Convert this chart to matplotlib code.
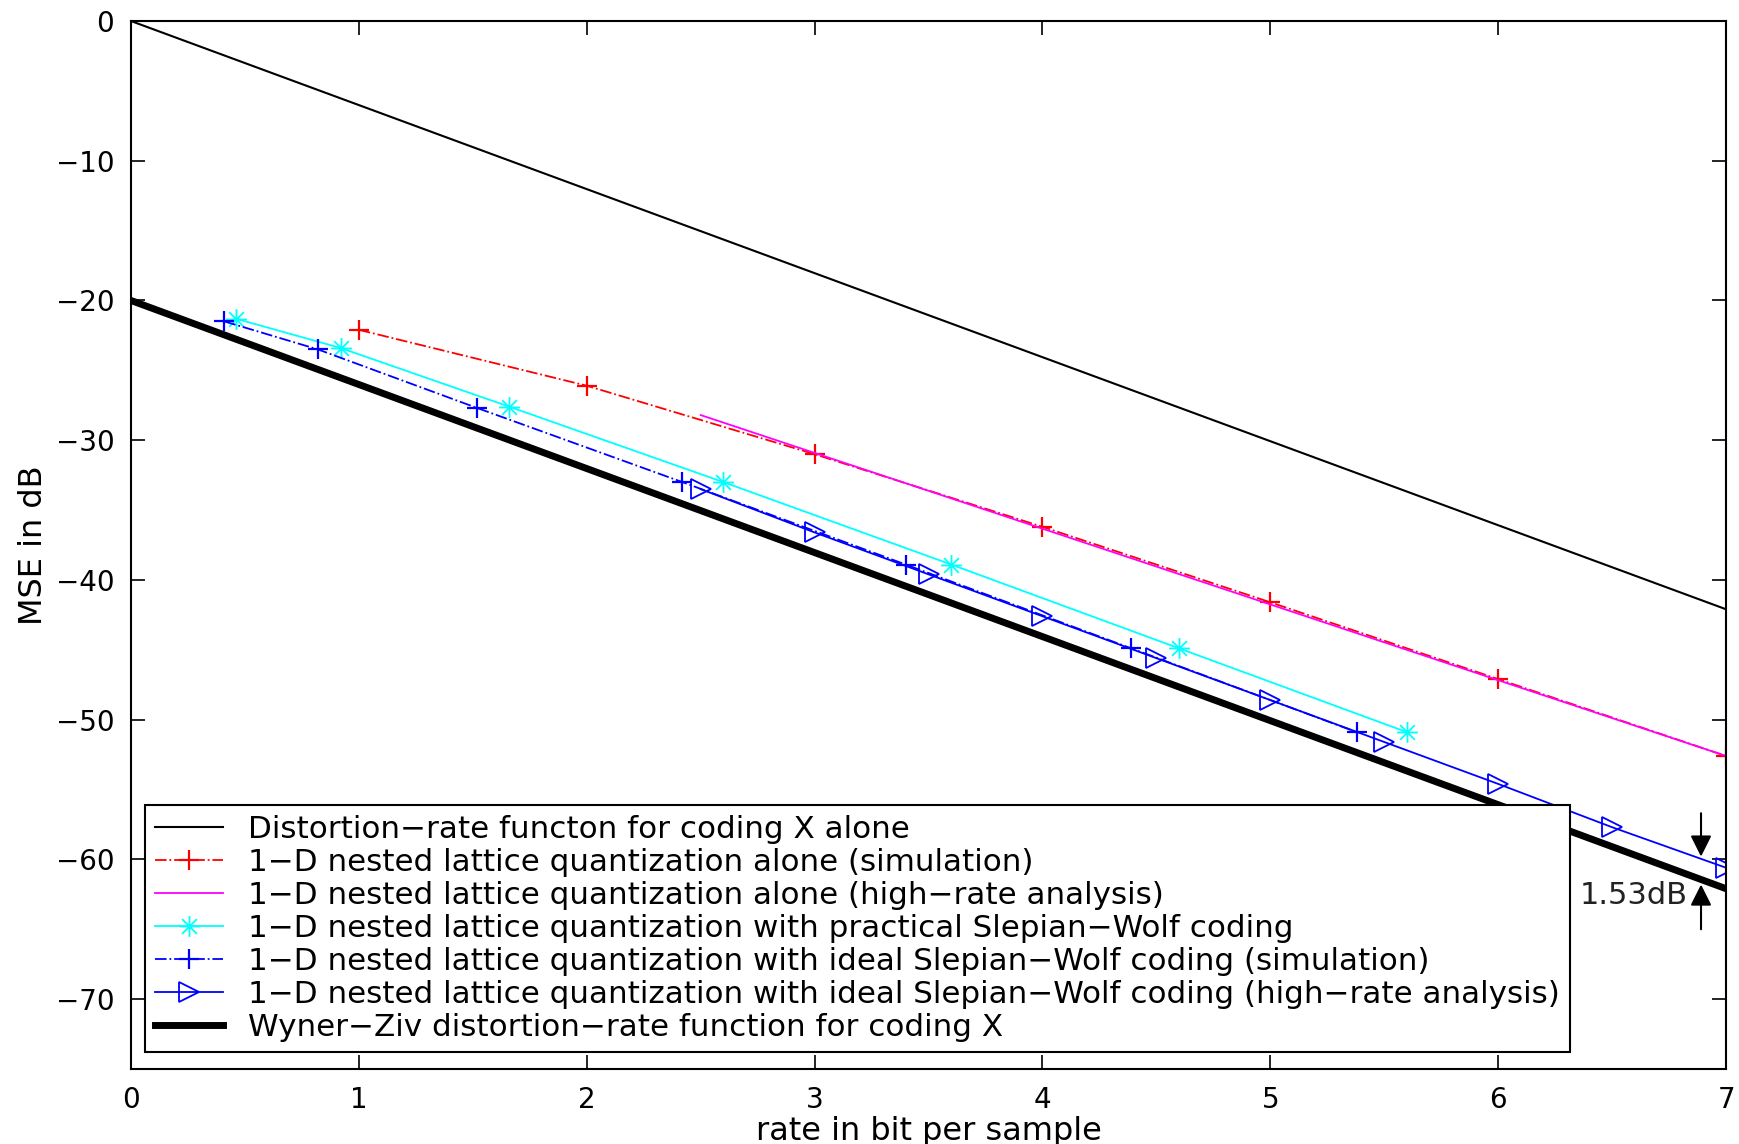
import matplotlib
matplotlib.use("Agg")
import matplotlib.pyplot as plt
from matplotlib.path import Path
import numpy as np

plt.rcParams['font.family'] = ['DejaVu Sans']
plt.rcParams['axes.unicode_minus'] = True

# distortion-rate curves (straight lines, endpoints)
dr_x = [0, 7]
dr_y = [0, -42.1]
wz_x = [0, 7]
wz_y = [-20, -62.1]

# 1-D nested lattice alone
alone_sim_x = [1, 2, 3, 4, 5, 6, 7]
alone_sim_y = [-22.1, -26.1, -31.0, -36.2, -41.6, -47.1, -52.6]
alone_hr_x = [2.5, 7]
alone_hr_y = [-28.2, -52.6]

# with practical Slepian-Wolf coding
prac_x = [0.46, 0.92, 1.66, 2.60, 3.60, 4.60, 5.60]
prac_y = [-21.3, -23.4, -27.6, -33.0, -38.9, -44.9, -50.9]

# with ideal Slepian-Wolf coding
ideal_sim_x = [0.41, 0.82, 1.52, 2.42, 3.40, 4.39, 5.38]
ideal_sim_y = [-21.5, -23.5, -27.7, -33.0, -38.9, -44.9, -50.9]
ideal_hr_x = [2.5, 3.0, 3.5, 4.0, 4.5, 5.0, 5.5, 6.0, 6.5, 7.0]
ideal_hr_y = [-33.5, -36.6, -39.6, -42.6, -45.6, -48.6, -51.6, -54.6, -57.7, -60.6]

labels = [
    'Distortion\u2212rate functon for coding X alone',
    '1\u2212D nested lattice quantization alone (simulation)',
    '1\u2212D nested lattice quantization alone (high\u2212rate analysis)',
    '1\u2212D nested lattice quantization with practical Slepian\u2212Wolf coding',
    '1\u2212D nested lattice quantization with ideal Slepian\u2212Wolf coding (simulation)',
    '1\u2212D nested lattice quantization with ideal Slepian\u2212Wolf coding (high\u2212rate analysis)',
    'Wyner\u2212Ziv distortion\u2212rate function for coding X',
]

# matlab-style line asterisk
d = 0.7071
asterisk = Path([(-1, 0), (1, 0), (0, -1), (0, 1), (-d, -d), (d, d), (-d, d), (d, -d)],
                [Path.MOVETO, Path.LINETO] * 4)

fig = plt.figure(figsize=(17.4, 11.44), dpi=100)
ax = fig.add_axes([0.0753, 0.0656, 0.9167, 0.916])

ax.plot(dr_x, dr_y, color='k', lw=1.5, label=labels[0])
ax.plot(alone_sim_x, alone_sim_y, color='red', ls='-.', lw=1.3, marker='+', ms=15, mew=1.6, label=labels[1])
ax.plot(alone_hr_x, alone_hr_y, color='magenta', lw=1.3, label=labels[2])
ax.plot(prac_x, prac_y, color='cyan', lw=1.3, marker=asterisk, ms=15, mew=1.3, mfc='none', label=labels[3])
ax.plot(ideal_sim_x, ideal_sim_y, color='blue', ls='-.', lw=1.3, marker='+', ms=15, mew=1.6, label=labels[4])
ax.plot(ideal_hr_x, ideal_hr_y, color='blue', lw=1.3, marker='>', ms=14, mfc='none', mew=1.3, label=labels[5])
ax.plot(wz_x, wz_y, color='k', lw=5, label=labels[6])

# 1.53 dB gap annotation
ax.annotate('', xy=(6.89, -60.0), xytext=(6.89, -56.5),
            arrowprops=dict(arrowstyle='-|>', color='k', lw=1.5, mutation_scale=32))
ax.annotate('', xy=(6.89, -61.6), xytext=(6.89, -65.2),
            arrowprops=dict(arrowstyle='-|>', color='k', lw=1.5, mutation_scale=32))
ax.text(6.83, -62.6, '1.53dB', ha='right', va='center', fontsize=22, color='#222222', zorder=10)

ax.set_xlim(0, 7)
ax.set_ylim(-75, 0)
ax.set_xticks(range(0, 8))
ax.set_yticks(range(-70, 1, 10))
ax.tick_params(direction='in', top=True, right=True, length=10, width=1.2, labelsize=20, pad=12)
for s in ax.spines.values():
    s.set_linewidth(1.5)

ax.set_xlabel('rate in bit per sample', fontsize=23, labelpad=2)
ax.set_ylabel('MSE in dB', fontsize=23, labelpad=5)

leg = ax.legend(loc='lower left', bbox_to_anchor=(0.009, 0.016), fontsize=22.3,
                fancybox=False, edgecolor='k', framealpha=1, borderpad=0.32,
                labelspacing=0.13, handlelength=2.2, handletextpad=0.8, borderaxespad=0)
leg.get_frame().set_linewidth(1.5)

fig.savefig('out.png', dpi=100)
